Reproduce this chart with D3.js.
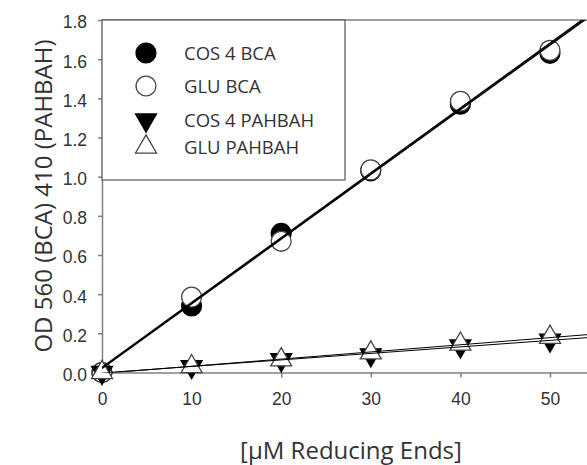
<!DOCTYPE html>
<html>
<head>
<meta charset="utf-8">
<script src="https://cdn.jsdelivr.net/npm/d3@7"></script>
<style>
  body { margin: 0; background: #fff; }
  svg { display: block; font-family: "Open Sans", sans-serif; }
</style>
</head>
<body>
<svg width="587" height="465"></svg>
<script>
// data
var conc = [0, 10, 20, 30, 40, 50];
var cos4Bca = [0.0, 0.34, 0.71, 1.03, 1.37, 1.63];
var gluBca = [0.0, 0.385, 0.67, 1.035, 1.385, 1.645];
var cos4Pahbah = [0.0, 0.03, 0.065, 0.09, 0.135, 0.165];
var gluPahbah = [0.0, 0.03, 0.065, 0.10, 0.145, 0.18];
var xTicks = [0, 10, 20, 30, 40, 50];
var yTicks = [0, 0.2, 0.4, 0.6, 0.8, 1.0, 1.2, 1.4, 1.6, 1.8];
var legendLabels = ["COS 4 BCA", "GLU BCA", "COS 4 PAHBAH", "GLU PAHBAH"];

var svg = d3.select("svg");
var margin = { top: 20, left: 102 },
    width = 485,
    height = 352.5;
var g = svg.append("g").attr("transform", "translate(" + margin.left + "," + margin.top + ")");

var x = d3.scaleLinear().domain([0, 54.13]).range([0, width]);
var y = d3.scaleLinear().domain([0, 1.8]).range([height, 0]);

var series = [
    { name: legendLabels[0], values: cos4Bca, shape: "circle", fill: "#000", stroke: "#000", lw: 1.6 },
    { name: legendLabels[1], values: gluBca, shape: "circle", fill: "#fff", stroke: "#444", lw: 1.6 },
    { name: legendLabels[2], values: cos4Pahbah, shape: "down", fill: "#000", stroke: "#000", lw: 1 },
    { name: legendLabels[3], values: gluPahbah, shape: "up", fill: "#fff", stroke: "#444", lw: 1 }
];

// least squares fit for each series
function fit(ys) {
    var mx = d3.mean(conc), my = d3.mean(ys);
    var sxy = d3.sum(conc, function (v, i) { return (v - mx) * (ys[i] - my); });
    var sxx = d3.sum(conc, function (v) { return (v - mx) * (v - mx); });
    var b = sxy / sxx;
    return { a: my - b * mx, b: b };
}

svg.append("clipPath").attr("id", "plot")
    .append("rect").attr("x", margin.left).attr("y", margin.top)
    .attr("width", width).attr("height", height);

// axes
var xAxis = g.append("g")
    .attr("transform", "translate(0," + height + ")")
    .call(d3.axisBottom(x).tickValues(xTicks).tickSize(5).tickSizeOuter(0).tickPadding(15));
var yAxis = g.append("g")
    .call(d3.axisLeft(y).tickValues(yTicks).tickFormat(d3.format(".1f")).tickSize(4).tickSizeOuter(0).tickPadding(11));
[xAxis, yAxis].forEach(function (a) {
    a.selectAll("path, line").attr("stroke", "#808080").attr("stroke-width", 1.5);
    a.selectAll("text").attr("fill", "#333").style("font-size", "17.5px");
});
yAxis.selectAll("text").attr("dy", "0.45em");

// top frame line
g.append("line")
    .attr("x1", 0).attr("x2", width).attr("y1", 0).attr("y2", 0)
    .attr("stroke", "#808080").attr("stroke-width", 1.5);

// regression lines
var lines = svg.append("g").attr("clip-path", "url(#plot)")
    .append("g").attr("transform", "translate(" + margin.left + "," + margin.top + ")");
series.forEach(function (s) {
    var f = fit(s.values);
    var ends = [0, x.domain()[1]];
    lines.append("path")
        .datum(ends)
        .attr("fill", "none")
        .attr("stroke", "#000")
        .attr("stroke-width", s.lw)
        .attr("d", d3.line()
            .x(function (d) { return x(d); })
            .y(function (d) { return y(f.a + f.b * d); }));
});

function symbolPath(shape) {
    if (shape === "circle") return d3.symbol().type(d3.symbolCircle).size(310)();
    return d3.symbol().type(d3.symbolTriangle).size(190)();
}

function drawMarker(sel, s) {
    sel.attr("d", symbolPath(s.shape))
        .attr("fill", s.fill)
        .attr("stroke", s.stroke)
        .attr("stroke-width", 1.3);
}

// legend box
g.append("rect")
    .attr("x", 0).attr("y", 0).attr("width", 243).attr("height", 160)
    .attr("fill", "#fff").attr("stroke", "#555").attr("stroke-width", 1.2);

// markers
series.forEach(function (s) {
    g.append("g").selectAll("path")
        .data(s.values)
        .enter().append("path")
        .attr("transform", function (d, i) {
            return "translate(" + x(conc[i]) + "," + y(d) + ")" + (s.shape === "down" ? " rotate(180)" : "");
        })
        .each(function () { drawMarker(d3.select(this), s); });
});

// legend entries
var legendY = [33, 66, 100, 127];
series.forEach(function (s, i) {
    var row = g.append("g").attr("transform", "translate(44," + legendY[i] + ")");
    row.append("path")
        .attr("transform", s.shape === "down" ? "rotate(180)" : null)
        .call(drawMarker, s);
    row.append("text")
        .attr("x", 38).attr("dy", "0.36em")
        .attr("fill", "#333")
        .style("font-size", "18.5px")
        .text(s.name);
});

// axis titles
svg.append("text")
    .attr("x", 351).attr("y", 459)
    .attr("text-anchor", "middle")
    .attr("fill", "#333")
    .style("font-size", "24px")
    .text("[\u00b5M Reducing Ends]");

svg.append("text")
    .attr("transform", "translate(52,196) rotate(-90)")
    .attr("text-anchor", "middle")
    .attr("fill", "#333")
    .style("font-size", "24px")
    .text("OD 560 (BCA) 410 (PAHBAH)");
</script>
</body>
</html>
